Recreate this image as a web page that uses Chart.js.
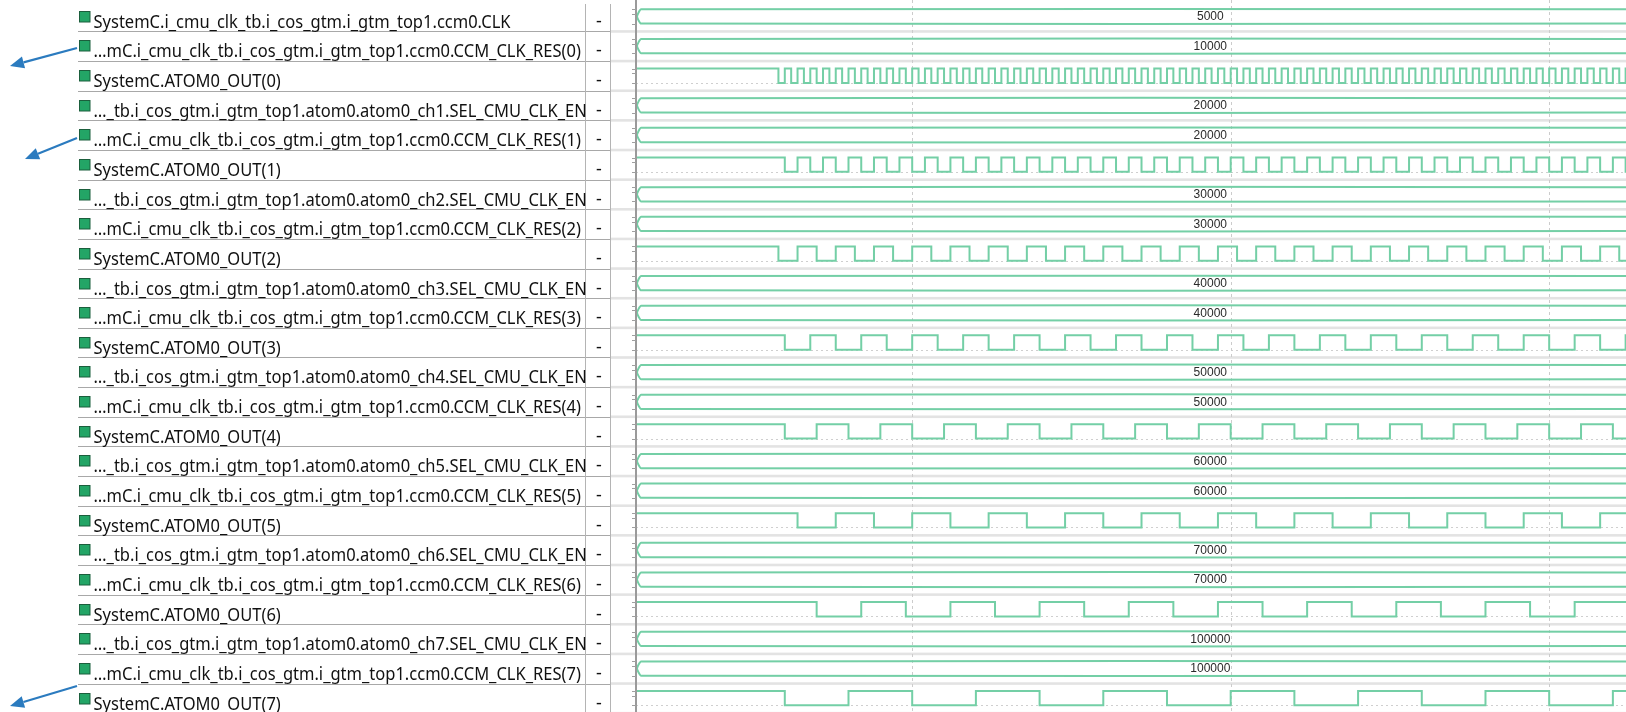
<!DOCTYPE html>
<html>
<head>
<meta charset="utf-8">
<script src="https://cdn.jsdelivr.net/npm/chart.js@4.4.1/dist/chart.umd.min.js"></script>
<style>
html,body{margin:0;padding:0;background:#fff;overflow:hidden}
#wrap{position:relative;width:1626px;height:712px}
</style>
</head>
<body>
<div id="wrap"><canvas id="c" width="1626" height="712"></canvas></div>
<script>
// ---------- DATA ----------
const signalNames = [
  "SystemC.i_cmu_clk_tb.i_cos_gtm.i_gtm_top1.ccm0.CLK",
  "…mC.i_cmu_clk_tb.i_cos_gtm.i_gtm_top1.ccm0.CCM_CLK_RES(0)",
  "SystemC.ATOM0_OUT(0)",
  "…_tb.i_cos_gtm.i_gtm_top1.atom0.atom0_ch1.SEL_CMU_CLK_EN",
  "…mC.i_cmu_clk_tb.i_cos_gtm.i_gtm_top1.ccm0.CCM_CLK_RES(1)",
  "SystemC.ATOM0_OUT(1)",
  "…_tb.i_cos_gtm.i_gtm_top1.atom0.atom0_ch2.SEL_CMU_CLK_EN",
  "…mC.i_cmu_clk_tb.i_cos_gtm.i_gtm_top1.ccm0.CCM_CLK_RES(2)",
  "SystemC.ATOM0_OUT(2)",
  "…_tb.i_cos_gtm.i_gtm_top1.atom0.atom0_ch3.SEL_CMU_CLK_EN",
  "…mC.i_cmu_clk_tb.i_cos_gtm.i_gtm_top1.ccm0.CCM_CLK_RES(3)",
  "SystemC.ATOM0_OUT(3)",
  "…_tb.i_cos_gtm.i_gtm_top1.atom0.atom0_ch4.SEL_CMU_CLK_EN",
  "…mC.i_cmu_clk_tb.i_cos_gtm.i_gtm_top1.ccm0.CCM_CLK_RES(4)",
  "SystemC.ATOM0_OUT(4)",
  "…_tb.i_cos_gtm.i_gtm_top1.atom0.atom0_ch5.SEL_CMU_CLK_EN",
  "…mC.i_cmu_clk_tb.i_cos_gtm.i_gtm_top1.ccm0.CCM_CLK_RES(5)",
  "SystemC.ATOM0_OUT(5)",
  "…_tb.i_cos_gtm.i_gtm_top1.atom0.atom0_ch6.SEL_CMU_CLK_EN",
  "…mC.i_cmu_clk_tb.i_cos_gtm.i_gtm_top1.ccm0.CCM_CLK_RES(6)",
  "SystemC.ATOM0_OUT(6)",
  "…_tb.i_cos_gtm.i_gtm_top1.atom0.atom0_ch7.SEL_CMU_CLK_EN",
  "…mC.i_cmu_clk_tb.i_cos_gtm.i_gtm_top1.ccm0.CCM_CLK_RES(7)",
  "SystemC.ATOM0_OUT(7)"
];
const signalValueColumn = ["-","-","-","-","-","-","-","-","-","-","-","-","-","-","-","-","-","-","-","-","-","-","-","-"];

// bus values per row (null = 1-bit signal row)
const busValues = [
  "5000","10000",null,
  "20000","20000",null,
  "30000","30000",null,
  "40000","40000",null,
  "50000","50000",null,
  "60000","60000",null,
  "70000","70000",null,
  "100000","100000",null
];

// time window (ns) and grid ticks
const timeStart = 332;
const timeEnd = 8103;
const busChangeTime = 340;
const busLabelTime = 4840;
const gridTimes = [2500, 5000, 7500];

// toggle times of each ATOM0_OUT(n) (initial level high)
const atomOut0Edges = [1450,1500,1550,1600,1650,1700,1750,1800,1850,1900,1950,
  2000,2050,2100,2150,2200,2250,2300,2350,2400,2450,2500,2550,2600,2650,2700,2750,2800,2850,2900,2950,
  3000,3050,3100,3150,3200,3250,3300,3350,3400,3450,3500,3550,3600,3650,3700,3750,3800,3850,3900,3950,
  4000,4050,4100,4150,4200,4250,4300,4350,4400,4450,4500,4550,4600,4650,4700,4750,4800,4850,4900,4950,
  5000,5050,5100,5150,5200,5250,5300,5350,5400,5450,5500,5550,5600,5650,5700,5750,5800,5850,5900,5950,
  6000,6050,6100,6150,6200,6250,6300,6350,6400,6450,6500,6550,6600,6650,6700,6750,6800,6850,6900,6950,
  7000,7050,7100,7150,7200,7250,7300,7350,7400,7450,7500,7550,7600,7650,7700,7750,7800,7850,7900,7950,
  8000,8050,8100];
const atomOut1Edges = [1500,1600,1700,1800,1900,2000,2100,2200,2300,2400,2500,2600,2700,2800,2900,
  3000,3100,3200,3300,3400,3500,3600,3700,3800,3900,4000,4100,4200,4300,4400,4500,4600,4700,4800,4900,
  5000,5100,5200,5300,5400,5500,5600,5700,5800,5900,6000,6100,6200,6300,6400,6500,6600,6700,6800,6900,
  7000,7100,7200,7300,7400,7500,7600,7700,7800,7900,8000,8100];
const atomOut2Edges = [1450,1600,1750,1900,2050,2200,2350,2500,2650,2800,2950,3100,3250,3400,3550,3700,
  3850,4000,4150,4300,4450,4600,4750,4900,5050,5200,5350,5500,5650,5800,5950,6100,6250,6400,6550,6700,
  6850,7000,7150,7300,7450,7600,7750,7900,8050];
const atomOut3Edges = [1500,1700,1900,2100,2300,2500,2700,2900,3100,3300,3500,3700,3900,4100,4300,4500,
  4700,4900,5100,5300,5500,5700,5900,6100,6300,6500,6700,6900,7100,7300,7500,7700,7900,8100];
const atomOut4Edges = [1500,1750,2000,2250,2500,2750,3000,3250,3500,3750,4000,4250,4500,4750,5000,5250,
  5500,5750,6000,6250,6500,6750,7000,7250,7500,7750,8000];
const atomOut5Edges = [1600,1900,2200,2500,2800,3100,3400,3700,4000,4300,4600,4900,5200,5500,5800,6100,
  6400,6700,7000,7300,7600,7900];
const atomOut6Edges = [1750,2100,2450,2800,3150,3500,3850,4200,4550,4900,5250,5600,5950,6300,6650,7000,
  7350,7700];
const atomOut7Edges = [1500,2000,2500,3000,3500,4000,4500,5000,5500,6000,6500,7000,7500,8000];

// which row each ATOM output belongs to
const atomRows = [2,5,8,11,14,17,20,23];
const atomEdges = [atomOut0Edges,atomOut1Edges,atomOut2Edges,atomOut3Edges,atomOut4Edges,atomOut5Edges,atomOut6Edges,atomOut7Edges];

// ---------- STYLE / LAYOUT ----------
const WAVE_COLOR = '#74cfa6';
const HIGH_OFF = 0.253;
const LOW_OFF = 0.735;
const MID_OFF = (HIGH_OFF + LOW_OFF) / 2;
const BUS_EDGE_TIME = 372;

// ---------- BUILD DATASETS ----------
const datasets = [];
busValues.forEach((v, i) => {
  if (v === null) return;
  datasets.push({
    data: [
      {x: timeEnd, y: i + HIGH_OFF},
      {x: BUS_EDGE_TIME, y: i + HIGH_OFF},
      {x: busChangeTime, y: i + MID_OFF},
      {x: BUS_EDGE_TIME, y: i + LOW_OFF},
      {x: timeEnd, y: i + LOW_OFF}
    ],
    borderColor: WAVE_COLOR, borderWidth: 2, pointRadius: 0, tension: 0.15, fill: false
  });
});
atomRows.forEach((row, n) => {
  const pts = [{x: timeStart, y: row + HIGH_OFF}];
  let high = true;
  atomEdges[n].forEach(t => {
    high = !high;
    pts.push({x: t, y: row + (high ? HIGH_OFF : LOW_OFF)});
  });
  pts.push({x: timeEnd, y: row + (high ? HIGH_OFF : LOW_OFF)});
  datasets.push({
    data: pts, stepped: true,
    borderColor: WAVE_COLOR, borderWidth: 2, pointRadius: 0, fill: false
  });
});

// ---------- PLUGIN: waveform decorations and signal list ----------
function arrow(ctx, x1, y1, x2, y2) {
  const ang = Math.atan2(y2 - y1, x2 - x1);
  const L = 14, W = 6;
  const bx = x2 - L * Math.cos(ang), by = y2 - L * Math.sin(ang);
  ctx.strokeStyle = '#2b7bbf'; ctx.fillStyle = '#2b7bbf'; ctx.lineWidth = 2.2;
  ctx.beginPath(); ctx.moveTo(x1, y1); ctx.lineTo(bx, by); ctx.stroke();
  ctx.beginPath();
  ctx.moveTo(x2, y2);
  ctx.lineTo(bx + W * Math.sin(ang), by - W * Math.cos(ang));
  ctx.lineTo(bx - W * Math.sin(ang), by + W * Math.cos(ang));
  ctx.closePath(); ctx.fill();
}

const wavePlugin = {
  id: 'wave',
  beforeDatasetsDraw(chart) {
    const {ctx, chartArea: a, scales: {x, y}} = chart;
    ctx.save();
    for (let i = 1; i <= signalNames.length; i++) {
      const yy = y.getPixelForValue(i);
      ctx.fillStyle = '#e3e3e3';
      ctx.fillRect(610, yy - 1.3, a.right - 610, 2.6);
    }
    ctx.strokeStyle = '#cfcfcf'; ctx.lineWidth = 1; ctx.setLineDash([2, 3]);
    busValues.forEach((v, i) => {
      if (v !== null) return;
      const yy = Math.round(y.getPixelForValue(i + LOW_OFF)) + 0.5;
      ctx.beginPath(); ctx.moveTo(a.left, yy); ctx.lineTo(a.right, yy); ctx.stroke();
    });
    ctx.strokeStyle = '#cccccc'; ctx.setLineDash([3, 3]);
    gridTimes.forEach(t => {
      const xx = Math.round(x.getPixelForValue(t)) + 0.5;
      ctx.beginPath(); ctx.moveTo(xx, a.top); ctx.lineTo(xx, a.bottom); ctx.stroke();
    });
    ctx.setLineDash([]);
    ctx.restore();
  },
  afterDatasetsDraw(chart) {
    const {ctx, scales: {x, y}} = chart;
    ctx.save();
    ctx.fillStyle = '#2a2a2a';
    ctx.font = '12px "Liberation Sans", Arial, sans-serif';
    ctx.textAlign = 'center'; ctx.textBaseline = 'middle';
    busValues.forEach((v, i) => {
      if (v === null) return;
      ctx.fillText(v, x.getPixelForValue(busLabelTime), y.getPixelForValue(i + MID_OFF) + 0.5);
    });
    ctx.restore();
  },
  afterDraw(chart) {
    const {ctx, chartArea: a, scales: {y}} = chart;
    ctx.save();
    ctx.strokeStyle = '#9a9a9a'; ctx.lineWidth = 2;
    ctx.beginPath(); ctx.moveTo(a.left, 0); ctx.lineTo(a.left, a.bottom); ctx.stroke();
    ctx.lineWidth = 1; ctx.strokeStyle = '#a0a0a0';
    for (let i = 0; i < signalNames.length; i++) {
      [HIGH_OFF, MID_OFF - 0.08, LOW_OFF].forEach(o => {
        const yy = Math.round(y.getPixelForValue(i + o)) + 0.5;
        ctx.beginPath(); ctx.moveTo(a.left - 4, yy); ctx.lineTo(a.left, yy); ctx.stroke();
      });
    }
    ctx.strokeStyle = '#a8a8a8'; ctx.lineWidth = 1;
    for (let i = 1; i <= signalNames.length; i++) {
      const yy = Math.round(y.getPixelForValue(i)) + 0.5;
      ctx.beginPath(); ctx.moveTo(78, yy); ctx.lineTo(610, yy); ctx.stroke();
    }
    ctx.strokeStyle = '#b4b4b4';
    [585.5, 610.5].forEach(xx => {
      ctx.beginPath(); ctx.moveTo(xx, 4); ctx.lineTo(xx, a.bottom); ctx.stroke();
    });
    ctx.font = '18px "Noto Sans", "Open Sans", sans-serif';
    const sx = 417 / ctx.measureText(signalNames[0]).width;
    ctx.textBaseline = 'alphabetic';
    signalNames.forEach((name, i) => {
      const top = y.getPixelForValue(i);
      ctx.fillStyle = '#23a566';
      ctx.fillRect(79.5, Math.round(top + 9) + 0.5, 10.5, 10.5);
      ctx.strokeStyle = '#1b5e3c'; ctx.lineWidth = 1;
      ctx.strokeRect(79.5, Math.round(top + 9) + 0.5, 10.5, 10.5);
      ctx.fillStyle = '#111';
      ctx.save();
      ctx.translate(93.5, top + 26);
      ctx.scale(sx, 1);
      ctx.textAlign = 'left';
      ctx.fillText(name, 0, 0);
      ctx.restore();
      ctx.textAlign = 'center';
      ctx.fillText(signalValueColumn[i], 599, top + 25);
    });
    arrow(ctx, 77, 48, 10, 66);
    arrow(ctx, 77, 138, 25, 159);
    arrow(ctx, 77, 686, 10, 706);
    ctx.restore();
  }
};

new Chart(document.getElementById('c'), {
  type: 'line',
  data: {datasets},
  options: {
    responsive: false,
    animation: false,
    events: [],
    layout: {padding: {left: 636, right: 0, top: 0, bottom: 0}},
    plugins: {legend: {display: false}, tooltip: {enabled: false}},
    scales: {
      x: {type: 'linear', min: timeStart, max: timeEnd, display: false},
      y: {type: 'linear', min: -0.061, max: 23.96, reverse: true, display: false}
    }
  },
  plugins: [wavePlugin]
});
</script>
</body>
</html>
